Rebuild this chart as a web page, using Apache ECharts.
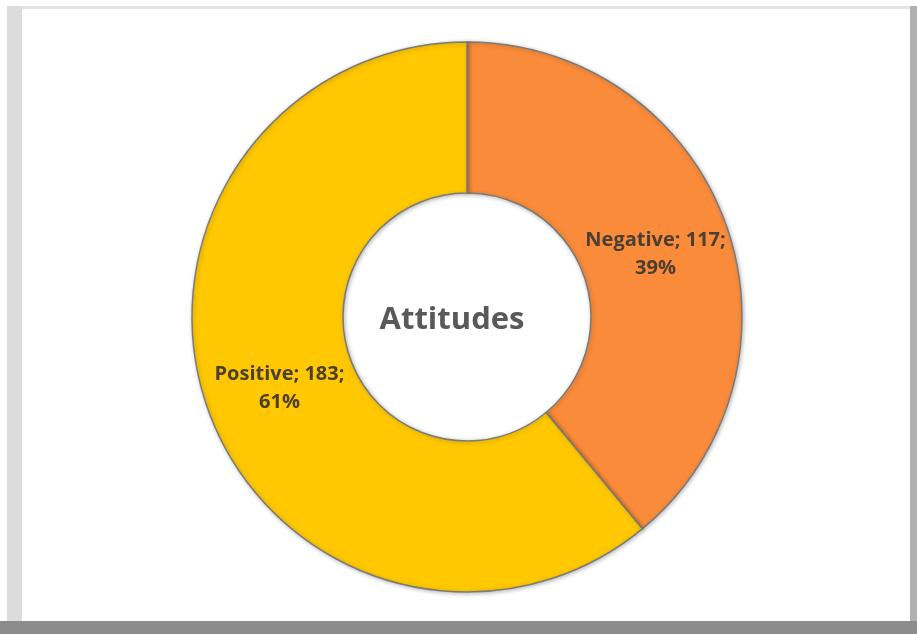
<!DOCTYPE html>
<html>
<head>
<meta charset="utf-8">
<script src="https://cdn.jsdelivr.net/npm/echarts@6/dist/echarts.min.js"></script>
<style>
html,body{margin:0;padding:0;background:#ffffff;}
#chart{width:917px;height:634px;}
</style>
</head>
<body>
<div id="chart"></div>
<script>
var categories = ["Negative", "Positive"];
var values = [117, 183];
var colors = ["#F98B3B", "#FFC800"];
var centerTitle = "Attitudes";

var labelOffsets = [[-2, 6], [3, 3]];
var chart = echarts.init(document.getElementById('chart'), null, {renderer: 'canvas'});
var data = categories.map(function (c, i) {
  return {name: c, value: values[i], itemStyle: {color: colors[i]}, label: {offset: labelOffsets[i]}};
});
chart.setOption({
  animation: false,
  backgroundColor: '#ffffff',
  graphic: [
    {type: 'rect', shape: {x: 7, y: 6, width: 905, height: 3}, style: {fill: '#e3e3e3'}, z: -10},
    {type: 'rect', shape: {x: 7, y: 6, width: 15, height: 616}, style: {fill: '#dcdcdc'}, z: -10},
    {type: 'rect', shape: {x: 910, y: 6, width: 7, height: 616}, style: {fill: '#b0b0b0'}, z: -10},
    {type: 'rect', shape: {x: 0, y: 621, width: 917, height: 13}, style: {fill: '#8c8c8c'}, z: -10},
    {type: 'rect', shape: {x: 22, y: 9, width: 888, height: 612}, style: {fill: '#ffffff'}, z: -9}
  ],
  title: {
    text: centerTitle,
    left: 447, top: 315,
    textAlign: 'center', textVerticalAlign: 'middle',
    textStyle: {fontFamily: 'Open Sans', fontWeight: 'bold', fontSize: 31, color: '#595959'}
  },
  series: [{
    type: 'pie',
    center: [467, 317],
    radius: [124, 275],
    startAngle: 90,
    clockwise: true,
    data: data,
    itemStyle: {borderColor: '#7a7a7a', borderWidth: 1.5, shadowColor: 'rgba(0,0,0,0.25)', shadowBlur: 4, shadowOffsetX: 1, shadowOffsetY: 1},
    label: {
      show: true,
      position: 'inside',
      formatter: function (p) { return p.name + '; ' + p.value + ';\n' + Math.round(p.percent) + '%'; },
      fontFamily: 'Open Sans', fontWeight: 'bold', fontSize: 20, lineHeight: 28,
      color: '#4a3f30'
    },
    labelLine: {show: false},
    emphasis: {disabled: true}
  }]
});
</script>
</body>
</html>
